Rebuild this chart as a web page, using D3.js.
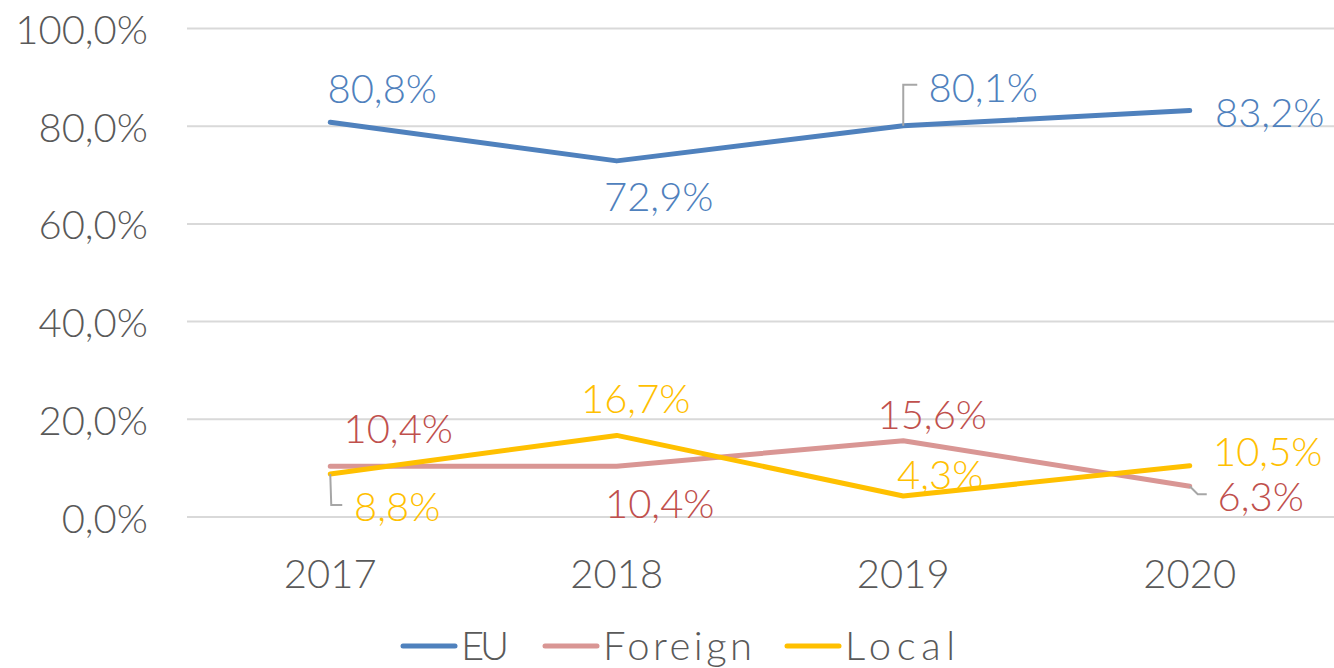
<!DOCTYPE html>
<html><head><meta charset="utf-8">
<script src="https://cdn.jsdelivr.net/npm/d3@7"></script>
<style>html,body{margin:0;padding:0;background:#fff;}svg{display:block;}</style>
</head><body>
<svg id="c" width="1334" height="668"></svg>
<script>
const years = ["2017","2018","2019","2020"];
const euValues = [80.8, 72.9, 80.1, 83.2];
const foreignValues = [10.4, 10.4, 15.6, 6.3];
const localValues = [8.8, 16.7, 4.3, 10.5];
const yTicks = [0, 20, 40, 60, 80, 100];
const seriesNames = ["EU", "Foreign", "Local"];

// layout / style config (not data)
const colors = {EU:"#4f81bd", Foreign:"#d99694", Local:"#ffc000"};
const labelColors = {EU:"#4f81bd", Foreign:"#c0504d", Local:"#ffc000"};
const labelOffsets = {
  EU: [[52,-19],[42,50],[80,-24],[80,16]],
  Foreign: [[68,-23],[43,52],[29,-12],[71,25]],
  Local: [[67,47],[19,-22],[37,-7],[78,0]]
};
const leaders = {
  EU: {2: [[0,0],[0,-41],[14,-41]]},
  Foreign: {3: [[0,0],[8,8],[17,8]]},
  Local: {0: [[0,0],[1,31],[12,31]]}
};

const fmt = v => d3.format(".1f")(v).replace(".", ",") + "%";
const FONT = "Lato, 'Open Sans', sans-serif";
const FS = 40;
const FW = 300;

const svg = d3.select("#c");
const x = d3.scaleBand().domain(years).range([187, 1333]);
const y = d3.scaleLinear().domain([0, 100]).range([517, 28.5]);
const cx = d => x(d) + x.bandwidth()/2;

// gridlines
svg.append("g").selectAll("line").data(yTicks).join("line")
  .attr("x1", 187).attr("x2", 1334)
  .attr("y1", d => y(d)).attr("y2", d => y(d))
  .attr("stroke", "#d9d9d9").attr("stroke-width", 2);

// y axis labels
const yAxis = d3.axisLeft(y).tickValues(yTicks).tickSize(0).tickPadding(0)
  .tickFormat(d => fmt(d));
const gy = svg.append("g").attr("transform", "translate(148,0)").call(yAxis);
gy.select(".domain").remove();
gy.selectAll("text").attr("font-family", FONT).attr("font-size", FS).attr("font-weight", FW)
  .attr("fill", "#595959").attr("dy", null).attr("dominant-baseline", "central");

// x axis labels
const xAxis = d3.axisBottom(x).tickSize(0).tickPadding(0);
const gx = svg.append("g").attr("transform", "translate(0,588)").call(xAxis);
gx.select(".domain").remove();
gx.selectAll("text").attr("font-family", FONT).attr("font-size", FS).attr("font-weight", FW)
  .attr("fill", "#595959").attr("dy", null);

const series = [
  {name:"EU", values: euValues},
  {name:"Foreign", values: foreignValues},
  {name:"Local", values: localValues}
];

const line = d3.line().x((d,i) => cx(years[i])).y(d => y(d));

series.forEach(s => {
  svg.append("path").datum(s.values)
    .attr("d", line).attr("fill", "none")
    .attr("stroke", colors[s.name]).attr("stroke-width", 5)
    .attr("stroke-linecap", "round").attr("stroke-linejoin", "round");
});

// leader lines
series.forEach(s => {
  const L = leaders[s.name];
  Object.keys(L).forEach(k => {
    const i = +k;
    const px = cx(years[i]), py = y(s.values[i]);
    svg.append("path")
      .attr("d", d3.line()(L[k].map(p => [px + p[0], py + p[1]])))
      .attr("fill", "none").attr("stroke", "#a6a6a6").attr("stroke-width", 2);
  });
});

// data labels
series.forEach(s => {
  svg.append("g").selectAll("text").data(s.values).join("text")
    .attr("x", (d,i) => cx(years[i]) + labelOffsets[s.name][i][0])
    .attr("y", (d,i) => y(d) + labelOffsets[s.name][i][1])
    .attr("text-anchor", "middle")
    .attr("font-family", FONT).attr("font-size", FS).attr("font-weight", FW)
    .attr("fill", labelColors[s.name])
    .text(d => fmt(d));
});

// legend
const legendX = [403, 545, 787];
const legendTextW = [48, 149, 110];
const lg = svg.append("g");
seriesNames.forEach((n, i) => {
  lg.append("line").attr("x1", legendX[i]).attr("x2", legendX[i] + 52)
    .attr("y1", 646).attr("y2", 646)
    .attr("stroke", colors[n]).attr("stroke-width", 5).attr("stroke-linecap", "round");
  lg.append("text").attr("x", legendX[i] + 58).attr("y", 660)
    .attr("font-family", FONT).attr("font-size", FS).attr("font-weight", FW).attr("fill", "#595959")
    .attr("textLength", legendTextW[i]).attr("lengthAdjust", "spacing")
    .text(n);
});
</script>
</body></html>
